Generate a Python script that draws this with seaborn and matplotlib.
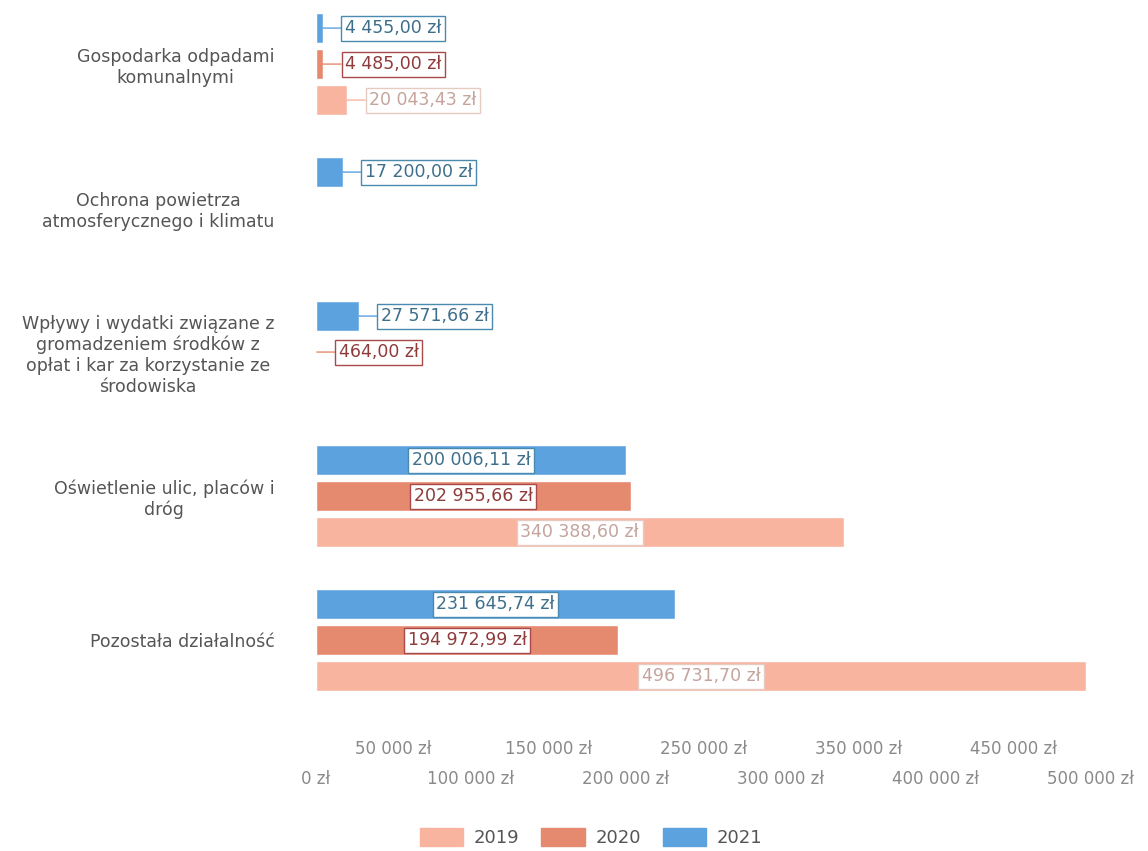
import matplotlib
matplotlib.use('Agg')
import matplotlib.pyplot as plt
import matplotlib.patches as mpatches
import seaborn as sns
import pandas as pd

categories = [
    'Gospodarka odpadami\nkomunalnymi',
    'Ochrona powietrza\natmosferycznego i klimatu',
    'Wpływy i wydatki związane z\ngromadzeniem środków z\nopłat i kar za korzystanie ze\nśrodowiska',
    'Oświetlenie ulic, placów i\ndróg',
    'Pozostała działalność',
]
years = ['2019', '2020', '2021']
values_2019 = [20043.43, None, None, 340388.60, 496731.70]
values_2020 = [4485.00, None, 464.00, 202955.66, 194972.99]
values_2021 = [4455.00, 17200.00, 27571.66, 200006.11, 231645.74]

colors = {'2019': '#F9B4A0', '2020': '#E58A6E', '2021': '#5BA2DF'}
text_colors = {'2019': '#C4A49C', '2020': '#8E3B3B', '2021': '#3D6F8C'}
edge_colors = {'2019': '#E6CBC3', '2020': '#A84A4A', '2021': '#4A8AAE'}

rows = []
for year, vals in zip(years, [values_2019, values_2020, values_2021]):
    for cat, v in zip(categories, vals):
        if v is not None:
            rows.append({'kategoria': cat, 'rok': year, 'kwota': v})
df = pd.DataFrame(rows)

def fmt(v):
    return f"{v:,.2f}".replace(',', ' ').replace('.', ',') + ' zł'

sns.set_style('white')
plt.rcParams['font.family'] = ['DejaVu Sans']

fig = plt.figure(figsize=(11.48, 8.51), dpi=100)
ax = fig.add_axes([0.2753, 0.1633, 0.675, 0.8367])

# 2021 on top of each group
hue_order = ['2021', '2020', '2019']
sns.barplot(data=df, y='kategoria', x='kwota', hue='rok', order=categories,
            hue_order=hue_order, palette=colors, orient='h', saturation=1,
            width=0.75, gap=0.17, dodge=True, legend=False, ax=ax)

ax.set_xlim(0, 500000)
ax.set_ylim(4.5, -0.445)

# value labels: inside for long bars, with a leader line for short ones
for year, cont in zip(hue_order, ax.containers):
    for bar in cont:
        w = bar.get_width()
        if w != w:
            continue
        yc = bar.get_y() + bar.get_height() / 2
        box = dict(boxstyle='square,pad=0.2', facecolor='white',
                   edgecolor=edge_colors[year], lw=1)
        if w > 100000:
            ax.text(w / 2, yc, fmt(w), ha='center', va='center', fontsize=12.5,
                    color=text_colors[year], bbox=box)
        else:
            ax.annotate(fmt(w), xy=(w, yc), xytext=(22, 0), textcoords='offset pixels',
                        ha='left', va='center', fontsize=12.5, color=text_colors[year],
                        bbox=box,
                        arrowprops=dict(arrowstyle='-', color=colors[year], lw=1,
                                        shrinkA=0, shrinkB=0))

major = [0, 100000, 200000, 300000, 400000, 500000]
minor = [50000, 150000, 250000, 350000, 450000]
ax.set_xticks(major)
ax.set_xticklabels([fmt(t).replace(',00', '') for t in major])
ax.set_xticks(minor, minor=True)
ax.set_xticklabels([fmt(t).replace(',00', '') for t in minor], minor=True)
ax.tick_params(axis='x', which='major', length=0, pad=42, labelsize=12, labelcolor='#8A8A8A')
ax.tick_params(axis='x', which='minor', length=0, pad=20, labelsize=12, labelcolor='#8A8A8A')
ax.tick_params(axis='y', length=0, pad=30, labelsize=12.5, labelcolor='#555555')
for lab in ax.get_yticklabels():
    lab.set_multialignment('center')

ax.set_xlabel('')
ax.set_ylabel('')
sns.despine(ax=ax, left=True, bottom=True)

handles = [mpatches.Patch(color=colors[y], label=y) for y in years]
fig.legend(handles=handles, loc='center', bbox_to_anchor=(0.515, 0.016), ncol=3,
           frameon=False, fontsize=13, handlelength=2.4, handleheight=1.2,
           columnspacing=1.2, handletextpad=0.6, labelcolor='#555555')

fig.savefig('out.png', dpi=100)
